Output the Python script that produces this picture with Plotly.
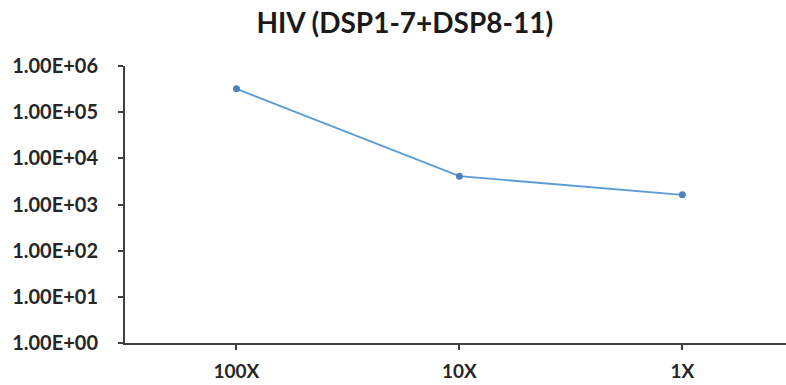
import plotly.graph_objects as go

categories = ["100X", "10X", "1X"]
values = [3.2e5, 4.1e3, 1.62e3]
y_tickvals = [1, 10, 100, 1e3, 1e4, 1e5, 1e6]
y_ticktext = ["1.00E+00", "1.00E+01", "1.00E+02", "1.00E+03", "1.00E+04", "1.00E+05", "1.00E+06"]
title_text = "HIV (DSP1-7+DSP8-11)"

fig = go.Figure()
fig.add_trace(go.Scatter(
    x=categories, y=values, mode="lines+markers",
    line=dict(color="#5B9BD5", width=1.8),
    marker=dict(color="#4F81BD", size=7),
    showlegend=False,
))

fig.update_layout(
    width=786, height=385,
    margin=dict(l=125, r=0, t=66, b=42),
    paper_bgcolor="white", plot_bgcolor="white",
    font=dict(family="Lato", color="#262626"),
    title=dict(text="<b>" + title_text + "</b>", x=0.515, xanchor="center",
               y=1 - 23 / 385, yanchor="middle",
               font=dict(size=28, family="Lato", color="#1a1a1a")),
)
fig.update_xaxes(
    type="category", range=[-0.5, 2.465],
    showline=True, linecolor="#404040", linewidth=2,
    ticks="outside", ticklen=5, tickcolor="#404040", tickwidth=2,
    showgrid=False, zeroline=False,
    tickfont=dict(size=19, family="Lato", color="#262626", weight="bold"),
    ticklabelstandoff=5,
)
fig.update_yaxes(
    type="log", range=[0, 6],
    tickvals=y_tickvals, ticktext=y_ticktext,
    showline=True, linecolor="#404040", linewidth=2,
    ticks="outside", ticklen=5, tickcolor="#404040", tickwidth=2,
    showgrid=False, zeroline=False,
    tickfont=dict(size=20, family="Lato", color="#262626", weight="bold"),
    ticklabelstandoff=16,
)

fig.write_html("out.html")
